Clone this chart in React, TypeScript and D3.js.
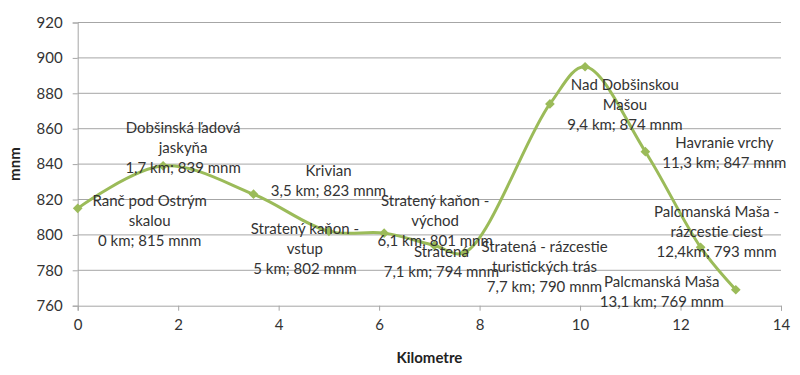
import React, { useEffect, useRef } from "react";
import * as d3 from "d3";

// distance along the route (km) and altitude (m n. m.)
const kilometres = [0, 1.7, 3.5, 5, 6.1, 7.1, 7.7, 9.4, 10.1, 11.3, 12.4, 13.1];
const altitudes = [815, 839, 823, 802, 801, 794, 790, 874, 895, 847, 793, 769];

// which point each label belongs to, and its text
const labelPoints = [0, 1, 2, 3, 4, 5, 6, 7, 9, 10, 11];
const labelTexts = [
  "Ranč pod Ostrým\nskalou\n0 km; 815 mnm",
  "Dobšinská ľadová\njaskyňa\n1,7 km; 839 mnm",
  "Krivian\n3,5 km; 823 mnm",
  "Stratený kaňon -\nvstup\n5 km; 802 mnm",
  "Stratený kaňon -\nvýchod\n6,1 km; 801 mnm",
  "Stratená\n7,1 km; 794 mnm",
  "Stratená - rázcestie\nturistických trás\n7,7 km; 790 mnm",
  "Nad Dobšinskou\nMašou\n9,4 km; 874 mnm",
  "Havranie vrchy\n11,3 km; 847 mnm",
  "Palcmanská Maša -\nrázcestie ciest\n12,4km; 793 mnm",
  "Palcmanská Maša\n13,1 km; 769 mnm",
];

const xTicks = [0, 2, 4, 6, 8, 10, 12, 14];
const yTicks = [760, 780, 800, 820, 840, 860, 880, 900, 920];

// label block offsets from their point (layout only)
const labelOffsets = [
  [72, 12], [20, -18], [75, -13], [-24, 17], [51, -12], [7, 16],
  [80, 14], [75, 1], [79, 1], [16, -16], [-74, 2],
];

const width = 800;
const height = 375;
const margin = { top: 22.5, right: 19, bottom: 69.3, left: 77.7 };
const font = "Lato, 'Open Sans', sans-serif";
const green = "#9bbb59";

const App = () => {
  const ref = useRef(null);

  useEffect(() => {
    const svg = d3.select(ref.current);
    svg.selectAll("*").remove();

    const x = d3.scaleLinear().domain([0, 14]).range([margin.left, width - margin.right]);
    const y = d3.scaleLinear().domain([760, 920]).range([height - margin.bottom, margin.top]);

    // gridlines
    svg
      .append("g")
      .selectAll("line")
      .data(yTicks.slice(1))
      .join("line")
      .attr("x1", margin.left)
      .attr("x2", width - margin.right)
      .attr("y1", (d) => y(d))
      .attr("y2", (d) => y(d))
      .style("stroke", "#a6a6a6")
      .style("stroke-width", 1);

    // axes
    const xAxis = d3.axisBottom(x).tickValues(xTicks).tickSize(5).tickPadding(9).tickFormat((d) => `${d}`);
    const yAxis = d3.axisLeft(y).tickValues(yTicks).tickSize(5).tickPadding(10).tickFormat((d) => `${d}`);

    const gx = svg.append("g").attr("transform", `translate(0, ${y(760)})`).call(xAxis);
    const gy = svg.append("g").attr("transform", `translate(${margin.left}, 0)`).call(yAxis);
    [gx, gy].forEach((g) => {
      g.select(".domain").style("stroke", "#a6a6a6");
      g.selectAll(".tick line").style("stroke", "#a6a6a6");
      g.selectAll(".tick text")
        .style("font-family", font)
        .style("font-size", "15px")
        .style("fill", "#333");
    });

    // axis titles
    svg
      .append("text")
      .attr("x", (margin.left + width - margin.right) / 2)
      .attr("y", 358)
      .attr("dy", "0.35em")
      .text("Kilometre")
      .style("text-anchor", "middle")
      .style("font-family", font)
      .style("font-size", "15px")
      .style("font-weight", "bold")
      .style("fill", "#222");

    svg
      .append("text")
      .attr("transform", `translate(15, ${(y(760) + y(920)) / 2}) rotate(-90)`)
      .attr("dy", "0.35em")
      .text("mnm")
      .style("text-anchor", "middle")
      .style("font-family", font)
      .style("font-size", "15px")
      .style("font-weight", "bold")
      .style("fill", "#222");

    const points = kilometres.map((k, i) => [x(k), y(altitudes[i])]);

    // smoothed line
    const line = d3.line().curve(d3.curveCatmullRom.alpha(0.5));
    svg
      .append("path")
      .attr("d", line(points))
      .style("fill", "none")
      .style("stroke", green)
      .style("stroke-width", 3)
      .style("stroke-linejoin", "round");

    // diamond markers
    svg
      .append("g")
      .selectAll("path")
      .data(points)
      .join("path")
      .attr("transform", (d) => `translate(${d[0]}, ${d[1]})`)
      .attr("d", d3.symbol(d3.symbolDiamond2, 60)())
      .style("fill", green);

    // data labels
    const labels = svg
      .append("g")
      .selectAll("text")
      .data(labelTexts)
      .join("text")
      .style("text-anchor", "middle")
      .style("font-family", font)
      .style("font-size", "15px")
      .style("fill", "#333");

    labels.each(function (t, i) {
      const p = points[labelPoints[i]];
      const cx = p[0] + labelOffsets[i][0];
      const cy = p[1] + labelOffsets[i][1];
      const lines = t.split("\n");
      d3.select(this)
        .selectAll("tspan")
        .data(lines)
        .join("tspan")
        .attr("x", cx)
        .attr("y", (d, j) => cy + (j - (lines.length - 1) / 2) * 20)
        .attr("dy", "0.35em")
        .text((d) => d);
    });
  }, []);

  return (
    <svg
      ref={ref}
      width={width}
      height={height}
      style={{ position: "absolute", left: 0, top: 0, background: "#fff" }}
    />
  );
};

export default App;
